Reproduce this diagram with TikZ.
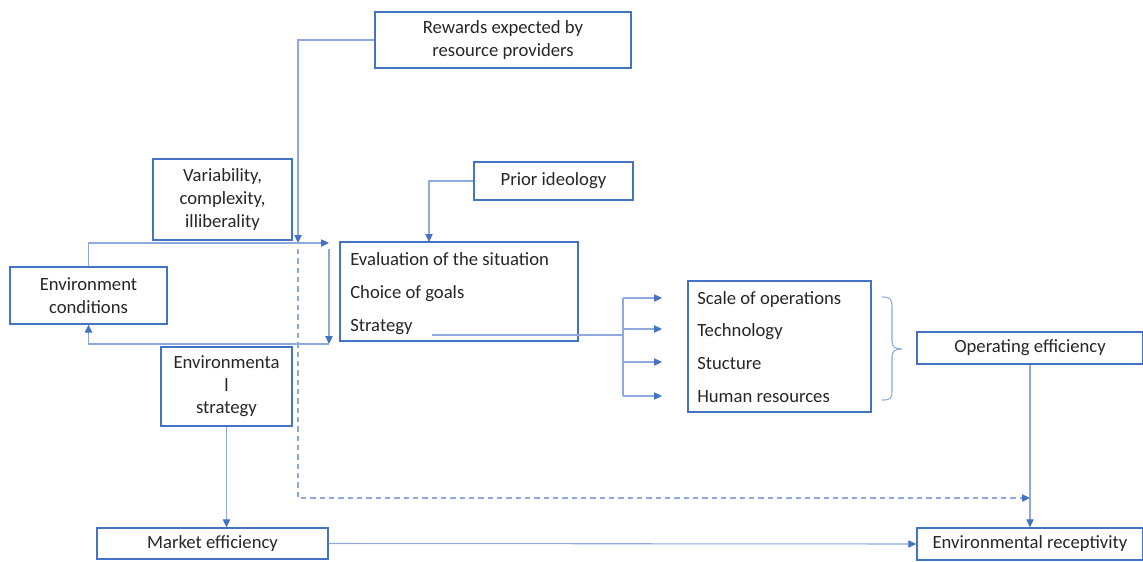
\documentclass[tikz,border=0pt]{standalone}
\usepackage{fontspec}
\setmainfont{Carlito}
\usetikzlibrary{arrows.meta}
\definecolor{boxc}{HTML}{4472C4}
\definecolor{linec}{HTML}{8EA9DB}
\definecolor{txt}{HTML}{262626}
\begin{document}
\begin{tikzpicture}[x=0.75pt,y=-0.75pt,
  box/.style={draw=boxc,line width=1pt,inner sep=0pt,align=center,text=txt,font=\fontsize{14}{17}\selectfont},
  lbl/.style={inner sep=0pt,text=txt,font=\fontsize{14}{17}\selectfont,anchor=base west},
  conn/.style={draw=linec,line width=0.8pt},
  arr/.style={conn,-{Triangle[length=6pt,width=5.5pt,color=boxc]}},
  dashconn/.style={arr,dash pattern=on 4pt off 3pt}]
\useasboundingbox (0,0) rectangle (1143,561);
\clip (0,0) rectangle (1143,561);
% boxes
\node[box,minimum width=192pt,minimum height=42pt] (rew) at (503,40) {Rewards expected by\\resource providers};
\node[box,minimum width=104.25pt,minimum height=60.75pt] (var) at (222.5,199.5) {Variability,\\complexity,\\illiberality};
\node[box,minimum width=119.25pt,minimum height=28.5pt] (prior) at (553.5,181) {Prior ideology};
\node[box,minimum width=117.75pt,minimum height=42.75pt] (env) at (88.5,295.5) {Environment\\conditions};
\node[box,minimum width=178.5pt,minimum height=74.25pt] (eval) at (459,291.5) {};
\node[lbl] (ev1) at (350,265) {Evaluation of the situation};
\node[lbl] (ev2) at (350,298) {Choice of goals};
\node[lbl] (ev3) at (350,331) {Strategy};
\node[box,minimum width=98.25pt,minimum height=59.25pt] (envs) at (226.5,386.5) {Environmenta\\l\\strategy};
\node[box,minimum width=137.25pt,minimum height=98.25pt] (scale) at (779.5,346.5) {};
\node[lbl] (sc1) at (697,304) {Scale of operations};
\node[lbl] (sc2) at (697,336) {Technology};
\node[lbl] (sc3) at (697,369) {Stucture};
\node[lbl] (sc4) at (697,402) {Human resources};
\node[box,minimum width=169.5pt,minimum height=24pt] (oper) at (1030,348) {Operating efficiency};
\node[box,minimum width=173.25pt,minimum height=23.25pt] (mkt) at (212.5,543.5) {Market efficiency};
\node[box,minimum width=169.5pt,minimum height=24pt] (rec) at (1030,544) {Environmental receptivity};
% coordinates
\coordinate (rv) at (298,40);
\coordinate (rt) at (298,243);
\coordinate (d0) at (298,249);
\coordinate (d1) at (298,498);
\coordinate (d2) at (1030,498);
\coordinate (lt) at (329,243);
\coordinate (vs) at (329,249);
\coordinate (ve) at (329,344);
\coordinate (pin) at (429,242);
\coordinate (s0) at (432,335);
\coordinate (fan) at (623,335);
\coordinate (ft) at (623,298);
\coordinate (fb) at (623,396);
\coordinate (a1) at (662,298);
\coordinate (a2) at (662,329);
\coordinate (a3) at (662,362);
\coordinate (a4) at (662,396);
% connectors
\draw[arr] (rew.west) -- (rv) -- (rt);
\draw[dashconn] (d0) -- (d1) -- (d2);
\draw[arr] (env.north) |- (lt);
\draw[arr] (vs) -- (ve);
\draw[arr] (ve) -| (env.south);
\draw[arr] (prior.west) -| (pin);
\draw[conn] (s0) -- (fan);
\draw[conn] (ft) -- (fb);
\draw[arr] (ft) -- (a1);
\draw[arr] (ft |- a2) -- (a2);
\draw[arr] (ft |- a3) -- (a3);
\draw[arr] (fb) -- (a4);
\draw[conn] (882,297) .. controls (890,297) and (892,299) .. (892,307) -- (892,341) .. controls (892,347) and (895,349) .. (902,349) .. controls (895,349) and (892,351) .. (892,357) -- (892,391) .. controls (892,399) and (890,400) .. (882,400);
\draw[arr] (oper.south) -- (rec.north);
\draw[arr] (envs.south) -- (envs.south |- mkt.north);
\draw[arr] (mkt.east) -- (rec.west);
\end{tikzpicture}
\end{document}
